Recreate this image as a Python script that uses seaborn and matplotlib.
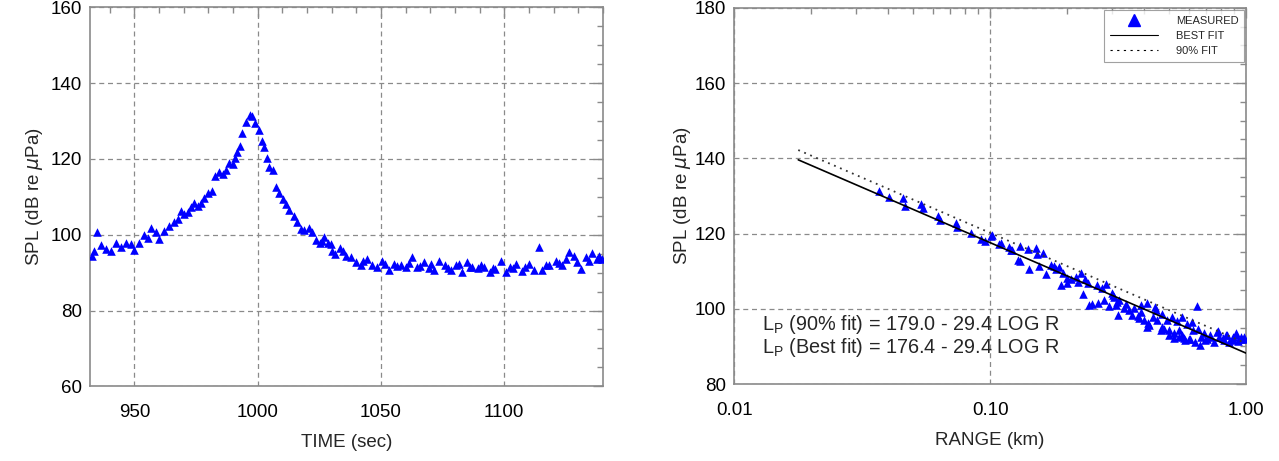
"""SPL vs time and SPL vs range (two panels)."""

import matplotlib.pyplot as plt
import matplotlib.ticker as mticker
from matplotlib.lines import Line2D
import pandas as pd
import seaborn as sns

# ---- left panel: SPL vs time ----
time_s = [
    932.9, 933.8, 934.7, 936.5, 938.5, 940.6, 942.6, 944.6, 946.6, 948.7,
    950.0, 951.8, 954.0, 955.4, 956.7, 958.8, 960.1, 962.1, 963.9, 966.2,
    967.5, 968.9, 970.2, 971.6, 973.0, 974.3, 975.6, 977.0, 978.3, 979.7,
    981.5, 982.8, 984.4, 985.8, 987.1, 988.5, 989.8, 990.9, 991.8, 992.8,
    993.8, 995.2, 996.8, 997.7, 999.0, 1000.6, 1001.7, 1002.6, 1003.6, 1004.7,
    1006.3, 1007.6, 1008.7, 1010.1, 1011.4, 1012.8, 1014.8, 1016.1, 1017.5, 1018.8,
    1020.6, 1021.9, 1023.6, 1025.2, 1026.2, 1027.0, 1028.7, 1029.6, 1030.3, 1031.4,
    1033.3, 1035.7, 1037.7, 1039.7, 1041.7, 1044.4, 1046.4, 1048.5, 1050.5, 1053.2,
    1055.3, 1058.0, 1060.3, 1062.4, 1064.7, 1067.4, 1069.4, 1071.5, 1073.5, 1075.9,
    1078.2, 1080.5, 1082.7, 1084.9, 1087.0, 1089.4, 1091.7, 1094.4, 1096.4, 1098.5,
    1100.5, 1102.5, 1104.6, 1107.3, 1110.0, 1112.0, 1114.0, 1115.4, 1118.1, 1120.8,
    1123.5, 1126.3, 1128.3, 1131.0, 1133.0, 1135.7, 1137.7, 1139.5,
    # extra points filling the flat tail
    1034.5, 1042.8, 1051.8, 1056.6, 1061.3, 1066.0, 1070.4, 1077.0, 1081.6, 1086.0,
    1090.5, 1095.4, 1103.5, 1108.6, 1116.8, 1122.2, 1125.0, 1129.6, 1134.4, 1138.6,
]
spl_time = [
    94.5, 95.8, 100.8, 97.3, 96.2, 95.8, 97.7, 96.7, 97.7, 97.5,
    96.1, 97.9, 100.0, 99.1, 101.7, 100.6, 98.9, 101.0, 102.4, 103.4,
    104.1, 106.3, 105.4, 105.9, 107.2, 108.3, 107.6, 108.5, 109.8, 111.1,
    111.5, 115.5, 116.5, 115.9, 117.2, 119.0, 118.6, 120.3, 121.8, 123.5,
    126.9, 129.7, 131.7, 131.4, 129.5, 127.6, 124.7, 123.2, 120.3, 118.0,
    117.2, 112.7, 111.1, 109.4, 108.1, 106.6, 105.0, 103.4, 101.5, 101.3,
    101.9, 100.6, 98.7, 97.8, 98.4, 99.3, 97.8, 97.5, 95.8, 94.9,
    96.4, 94.5, 94.1, 92.9, 91.9, 93.6, 91.9, 91.4, 93.2, 90.6,
    92.3, 91.9, 91.4, 94.1, 91.4, 92.8, 91.2, 90.6, 93.2, 91.9,
    90.6, 91.9, 90.1, 92.8, 91.4, 91.2, 91.4, 90.1, 91.0, 93.2,
    90.1, 91.4, 92.3, 90.3, 92.3, 90.6, 96.7, 90.6, 91.9, 93.2,
    91.9, 95.5, 94.5, 91.0, 94.1, 95.2, 93.6, 93.6,
    95.6, 93.0, 92.2, 91.8, 92.6, 91.7, 92.2, 91.3, 92.4, 91.6,
    92.0, 91.3, 91.1, 91.6, 91.9, 92.6, 93.6, 92.8, 93.0, 94.3,
]

# ---- right panel: SPL vs range ----
range_km = [
    0.0367, 0.0402, 0.0457, 0.0467, 0.0535, 0.0548, 0.0625, 0.0637, 0.0733, 0.0744,
    0.0839, 0.0918, 0.0951, 0.101, 0.102, 0.108, 0.110, 0.1185, 0.121, 0.1222,
    0.1285, 0.131, 0.131, 0.1407, 0.142, 0.1508, 0.153, 0.155, 0.1614, 0.165,
    0.1726, 0.177, 0.1807, 0.186, 0.189, 0.193, 0.199, 0.200, 0.207, 0.216,
    0.220, 0.226, 0.231, 0.234, 0.241, 0.243, 0.250, 0.2607, 0.265, 0.274,
    0.278, 0.284, 0.292, 0.298, 0.303, 0.305, 0.311, 0.313, 0.317, 0.320,
    0.334, 0.339, 0.350, 0.357, 0.366, 0.377, 0.382, 0.388, 0.388, 0.400,
    0.410, 0.410, 0.413, 0.418, 0.431, 0.440, 0.444, 0.450, 0.465, 0.470,
    0.470, 0.477, 0.491, 0.499, 0.499, 0.514, 0.521, 0.521, 0.537, 0.545,
    0.545, 0.563, 0.563, 0.572, 0.579, 0.589, 0.598, 0.605, 0.616, 0.621,
    0.634, 0.643, 0.647, 0.660, 0.666, 0.686, 0.690, 0.703, 0.720, 0.724,
    0.746, 0.770, 0.774, 0.786, 0.810, 0.818, 0.835, 0.840, 0.860, 0.887,
    0.887, 0.910, 0.911, 0.930, 0.955, 0.955, 0.978, 0.980,
]
spl_range = [
    131.4, 129.7, 129.4, 127.3, 127.9, 126.7, 124.7, 123.6, 122.7, 121.7,
    120.2, 118.5, 118.1, 119.4, 119.6, 117.2, 117.6, 116.5, 115.6, 115.5,
    113.0, 116.7, 112.8, 115.8, 110.5, 116.1, 114.6, 111.4, 114.9, 109.3,
    111.6, 111.4, 110.5, 111.2, 106.3, 109.4, 108.1, 106.9, 107.8, 108.4,
    107.2, 109.4, 103.9, 107.8, 106.8, 101.0, 101.3, 106.3, 101.6, 105.4,
    102.3, 106.6, 100.7, 104.3, 103.7, 103.1, 101.0, 101.9, 98.4, 102.3,
    100.1, 101.3, 99.7, 98.4, 100.1, 98.1, 97.5, 99.2, 101.0, 97.0,
    101.5, 95.2, 96.3, 95.7, 97.7, 100.5, 99.7, 97.0, 94.4, 98.6,
    95.2, 94.5, 97.0, 94.4, 93.0, 97.7, 93.5, 92.1, 96.8, 92.6,
    94.4, 97.9, 93.0, 92.1, 91.7, 96.0, 91.9, 91.9, 96.6, 94.4,
    91.3, 100.7, 94.5, 90.4, 92.6, 93.5, 91.7, 91.9, 93.0, 92.4,
    91.3, 93.9, 94.2, 92.6, 92.1, 91.7, 93.0, 93.0, 91.3, 92.6,
    91.7, 93.0, 93.5, 91.4, 92.4, 91.9, 91.9, 92.6,
]

fit_range = [0.0178, 1.0]
best_fit = [139.6, 88.2]
fit_90 = [142.2, 90.8]

sns.set_theme(style="white")
plt.rcParams["font.family"] = ["Liberation Sans", "DejaVu Sans"]
plt.rcParams["mathtext.fontset"] = "dejavusans"

BLUE = "#0000ff"
SPINE = "#8a8a8a"
GRID = "#8a8a8a"
FS = 13.5

fig = plt.figure(figsize=(12.79, 4.61), dpi=100)
ax1 = fig.add_axes([0.0704, 0.162, 0.401, 0.822])
ax2 = fig.add_axes([0.574, 0.167, 0.4003, 0.816])


def _style(ax):
    for s in ax.spines.values():
        s.set_color(SPINE)
        s.set_linewidth(1.2)
    ax.tick_params(which="both", direction="in", top=True, right=True,
                   colors=SPINE, labelcolor="black", labelsize=FS)
    ax.tick_params(which="major", length=7, width=1)
    ax.tick_params(which="minor", length=4, width=1)
    ax.tick_params(axis="x", pad=13)
    ax.tick_params(axis="y", pad=6)
    ax.grid(True, which="major", color=GRID, linestyle=(0, (4, 3)), linewidth=0.9)
    ax.set_axisbelow(True)


# left
df_t = pd.DataFrame({"t": time_s, "spl": spl_time})
sns.scatterplot(data=df_t, x="t", y="spl", marker="^", color=BLUE, s=38,
                linewidth=0, ax=ax1, zorder=3)
ax1.set_xlim(932, 1140)
ax1.set_ylim(60, 160)
ax1.xaxis.set_major_locator(mticker.MultipleLocator(50))
ax1.xaxis.set_minor_locator(mticker.MultipleLocator(10))
ax1.yaxis.set_major_locator(mticker.MultipleLocator(20))
ax1.yaxis.set_minor_locator(mticker.MultipleLocator(5))
ax1.set_xlabel("TIME (sec)", fontsize=FS, labelpad=9)
ax1.set_ylabel(r"SPL (dB re $\mu$Pa)", fontsize=FS, labelpad=4)
_style(ax1)

# right
df_r = pd.DataFrame({"r": range_km, "spl": spl_range})
df_fit = pd.DataFrame({"r": fit_range, "best": best_fit, "p90": fit_90})
sns.scatterplot(data=df_r, x="r", y="spl", marker="^", color=BLUE, s=38,
                linewidth=0, ax=ax2, zorder=3)
sns.lineplot(data=df_fit, x="r", y="best", color="black", linewidth=1.2, ax=ax2, zorder=4)
sns.lineplot(data=df_fit, x="r", y="p90", color="#333333", linewidth=1.3,
             linestyle=(0, (1, 2.6)), ax=ax2, zorder=4)
ax2.set_xscale("log")
ax2.set_xlim(0.01, 1.0)
ax2.set_ylim(80, 180)
ax2.xaxis.set_major_locator(mticker.FixedLocator([0.01, 0.1, 1.0]))
ax2.xaxis.set_major_formatter(mticker.FixedFormatter(["0.01", "0.10", "1.00"]))
ax2.xaxis.set_minor_locator(mticker.LogLocator(base=10, subs=range(2, 10)))
ax2.xaxis.set_minor_formatter(mticker.NullFormatter())
ax2.yaxis.set_major_locator(mticker.MultipleLocator(20))
ax2.yaxis.set_minor_locator(mticker.MultipleLocator(5))
ax2.set_xlabel("RANGE (km)", fontsize=FS, labelpad=9)
ax2.set_ylabel(r"SPL (dB re $\mu$Pa)", fontsize=FS, labelpad=1)
_style(ax2)

ax2.text(0.055, 0.157, r"L$_\mathregular{P}$ (90% fit) = 179.0 - 29.4 LOG R",
         transform=ax2.transAxes, fontsize=14.3, va="center")
ax2.text(0.055, 0.096, r"L$_\mathregular{P}$ (Best fit) = 176.4 - 29.4 LOG R",
         transform=ax2.transAxes, fontsize=14.3, va="center")

handles = [
    Line2D([], [], marker="^", color=BLUE, linestyle="none", markersize=8),
    Line2D([], [], color="black", linewidth=0.8),
    Line2D([], [], color="black", linewidth=0.8, linestyle=(0, (2, 4))),
]
leg = ax2.legend(handles, ["MEASURED", "BEST FIT", "90% FIT"], loc="upper right",
                 fontsize=8, frameon=True, fancybox=False, borderaxespad=0.15,
                 handlelength=4.3, handletextpad=1.6, labelspacing=0.45,
                 borderpad=0.55, edgecolor=SPINE)
leg.get_frame().set_linewidth(0.8)

fig.savefig("out.png", dpi=100)
